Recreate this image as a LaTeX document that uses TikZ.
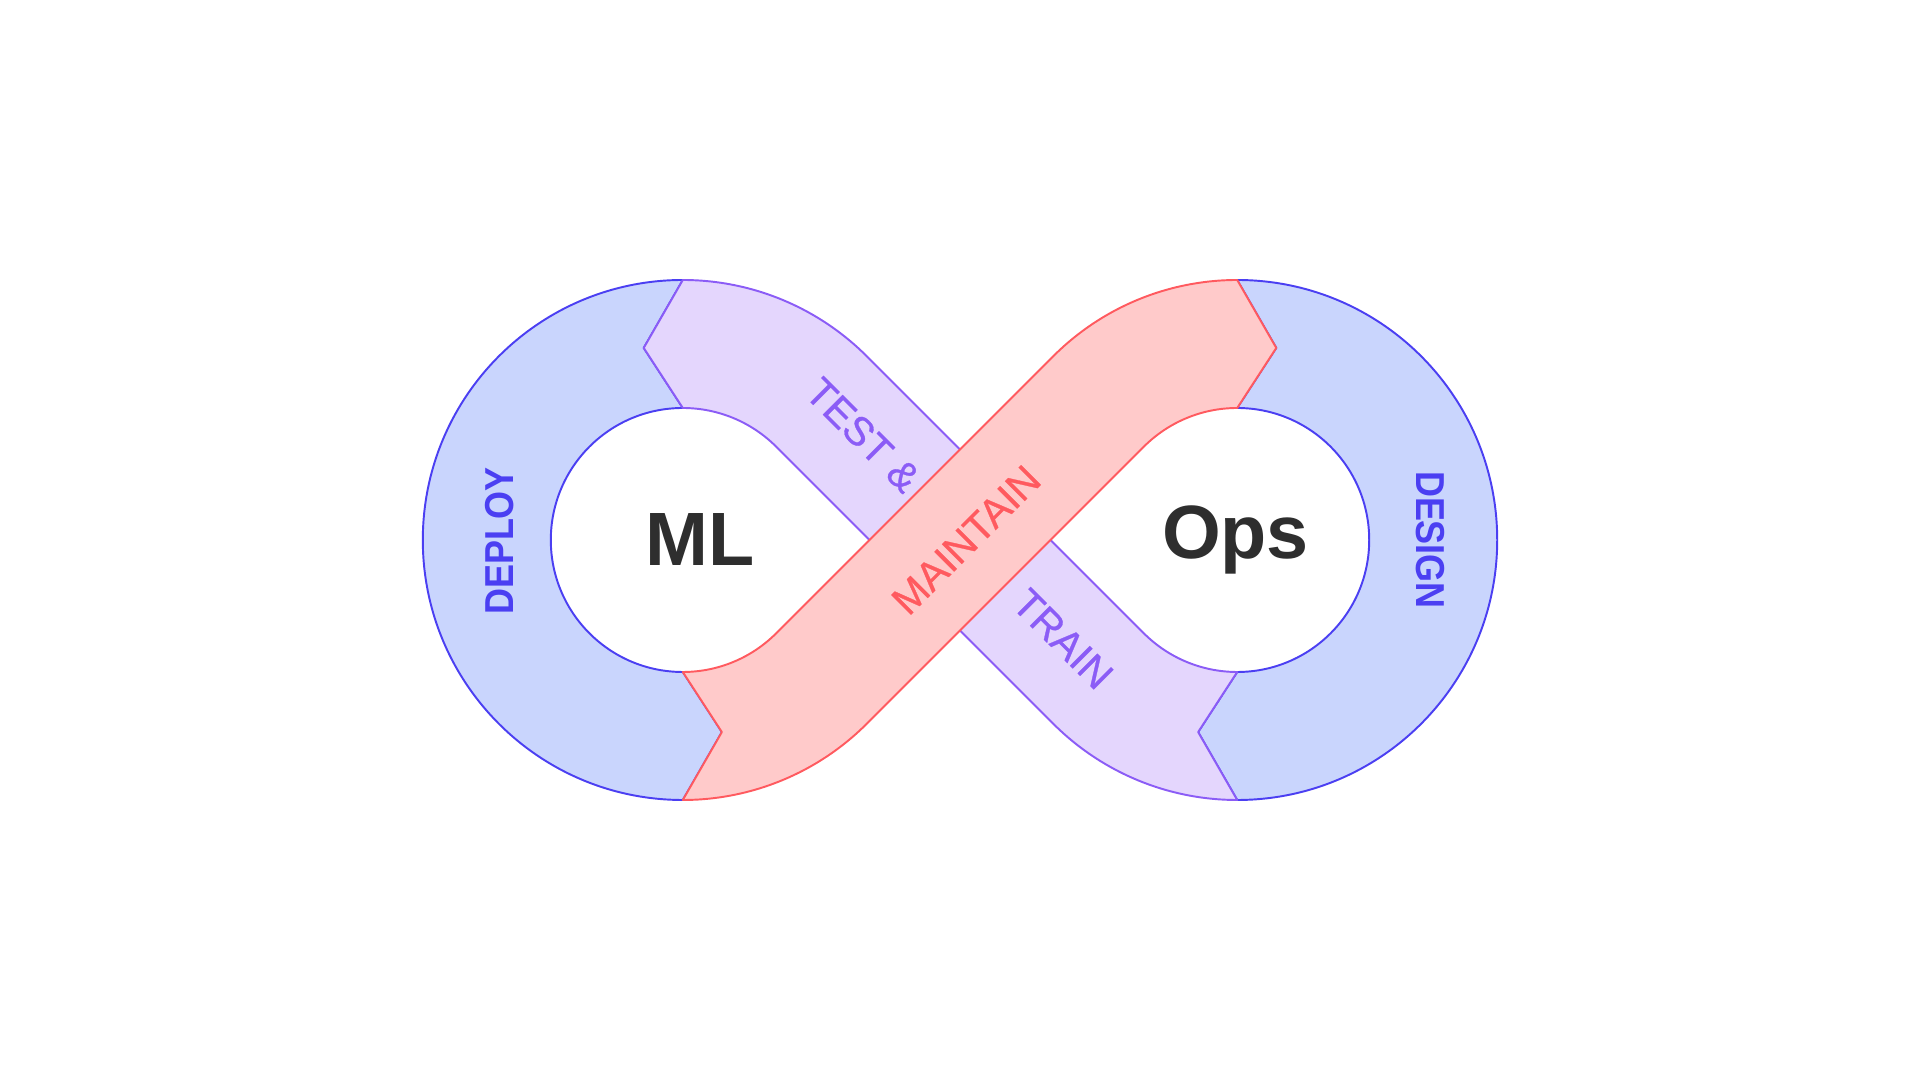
\documentclass[tikz,border=0pt]{standalone}
\usepackage{fontspec}
\usepackage{xcolor}
\usepackage{tikz}
\usetikzlibrary{calc}
\setmainfont{Liberation Sans}
\newfontfamily\stagefont{Liberation Sans}[FakeStretch=0.89]
\newfontfamily\midfont{Liberation Sans}[FakeBold=0.7]

\definecolor{bluefill}{HTML}{C9D5FD}
\definecolor{blueline}{HTML}{4B3FF2}
\definecolor{purplefill}{HTML}{E4D6FD}
\definecolor{purpleline}{HTML}{8B5CF6}
\definecolor{redfill}{HTML}{FFCACA}
\definecolor{redline}{HTML}{FF5A5F}
\definecolor{inkdark}{HTML}{2E2E2E}

\begin{document}
\begin{tikzpicture}[
    blueband/.style={fill=bluefill,draw=blueline,line width=0.55pt,line join=round},
    purpleband/.style={fill=purplefill,draw=purpleline,line width=0.55pt,line join=round},
    redband/.style={fill=redfill,draw=redline,line width=0.55pt,line join=round},
    stagebold/.style={inner sep=0pt,font=\stagefont\bfseries\fontsize{11.5}{12}\selectfont},
    stagethin/.style={inner sep=0pt,font=\midfont\fontsize{11.5}{12}\selectfont},
    bigword/.style={inner sep=0pt,text=inkdark,font=\bfseries\fontsize{21.5}{24}\selectfont}
  ]
            \useasboundingbox (0,0) rectangle (19.2,10.8);
            \coordinate (L) at (6.828,5.4);
            \coordinate (Rc) at (12.372,5.4);

            % left and right loops
            \filldraw[blueband] ($(L)+(90:2.6)$) -- ($(L)+(101.5:1.96)$) -- ($(L)+(90:1.32)$)
                arc[start angle=90,end angle=270,radius=1.32] -- ($(L)+(281.5:1.96)$) -- ($(L)+(270:2.6)$)
                arc[start angle=270,end angle=90,radius=2.6] -- cycle;
            \filldraw[blueband] ($(Rc)+(90:2.6)$) -- ($(Rc)+(78.5:1.96)$) -- ($(Rc)+(90:1.32)$)
                arc[start angle=90,end angle=-90,radius=1.32] -- ($(Rc)+(-101.5:1.96)$) -- ($(Rc)+(-90:2.6)$)
                arc[start angle=-90,end angle=90,radius=2.6] -- cycle;

            % band under the crossing
            \filldraw[purpleband] ($(L)+(90:2.6)$) arc[start angle=90,end angle=45,radius=2.6]
                -- ($(Rc)+(225:1.32)$) arc[start angle=225,end angle=270,radius=1.32]
                -- ($(Rc)+(258.5:1.96)$) -- ($(Rc)+(270:2.6)$) arc[start angle=270,end angle=225,radius=2.6]
                -- ($(L)+(45:1.32)$) arc[start angle=45,end angle=90,radius=1.32]
                -- ($(L)+(101.5:1.96)$) -- cycle;

            % band over the crossing
            \filldraw[redband] ($(L)+(270:1.32)$) -- ($(L)+(281.5:1.96)$) -- ($(L)+(270:2.6)$)
                arc[start angle=270,end angle=315,radius=2.6]
                -- ($(Rc)+(135:1.32)$) arc[start angle=135,end angle=90,radius=1.32]
                -- ($(Rc)+(78.5:1.96)$) -- ($(Rc)+(90:2.6)$) arc[start angle=90,end angle=135,radius=2.6]
                -- ($(L)+(315:1.32)$) arc[start angle=315,end angle=270,radius=1.32] -- cycle;

            \node[stagebold,text=blueline,rotate=90] (deploy) at (5.00,5.39) {DEPLOY};
            \node[stagebold,text=blueline,rotate=-90] (design) at (14.30,5.40) {DESIGN};
            \node[stagethin,text=purpleline,rotate=-45] (test) at (8.63,6.45) {TEST \&};
            \node[stagethin,text=purpleline,rotate=-45] (train) at (10.63,4.41) {TRAIN};
            \node[stagethin,text=redline,rotate=45] (maintain) at (9.66,5.40) {MAINTAIN};

            \node[bigword,anchor=base] (ml) at (7.00,5.14) {ML};
            \node[bigword,anchor=base] (ops) at (12.355,5.21) {Ops};
        \end{tikzpicture}
\end{document}
